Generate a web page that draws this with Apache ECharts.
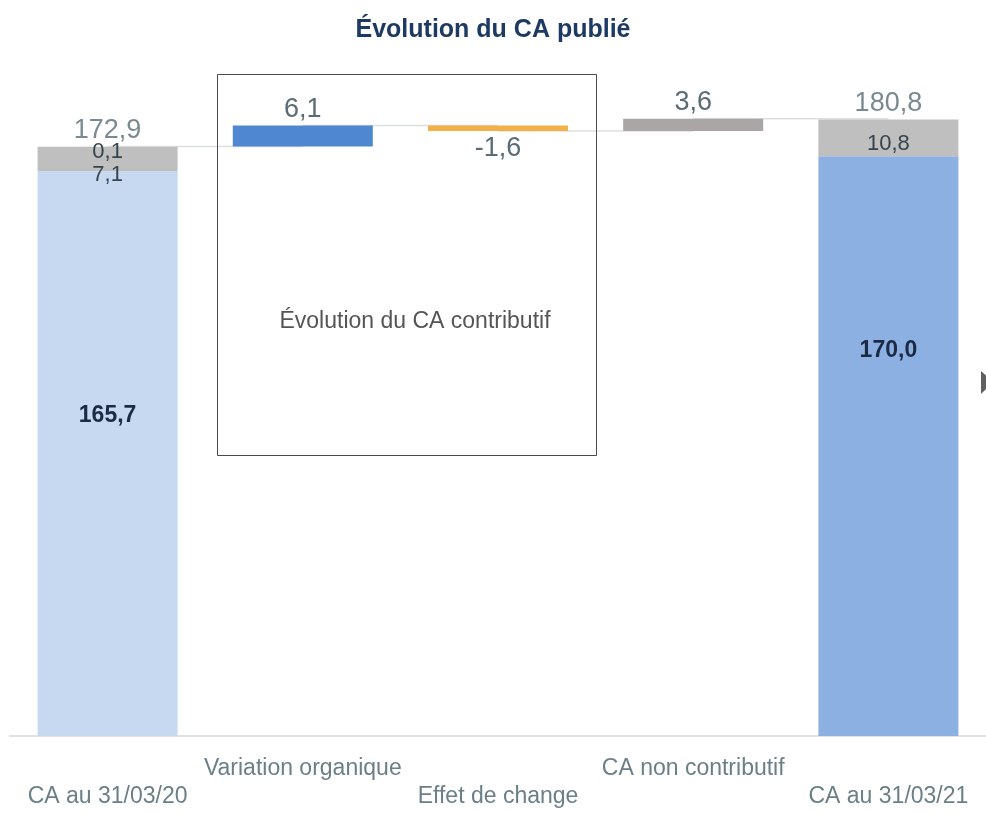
<!DOCTYPE html>
<html>
<head>
<meta charset="utf-8">
<script src="https://cdn.jsdelivr.net/npm/echarts@6/dist/echarts.min.js"></script>
<style>html,body{margin:0;padding:0;background:#fff}#c{width:986px;height:814px}</style>
</head>
<body>
<div id="c"></div>
<script>
// ---- data ----
var categories = ['CA au 31/03/20', 'Variation organique', 'Effet de change', 'CA non contributif', 'CA au 31/03/21'];
var start2020 = [165.7, 7.1, 0.1];       // base, gray, light gray segments of first bar
var deltas = [6.1, -1.6, 3.6];           // organic, FX, non-contributive
var end2021 = [170.0, 10.8];             // base, gray segment of last bar
var deltaColors = ['#4f87d1', '#f2b148', '#aba6a6'];

function fmt(v) { return v.toFixed(1).replace('.', ','); }

var total2020 = +(start2020[0] + start2020[1] + start2020[2]).toFixed(1);
var total2021 = +(end2021[0] + end2021[1]).toFixed(1);

var valColor = '#5a6c75';
var ff = '"Liberation Sans", Arial, sans-serif';

// waterfall bases and connector levels computed from values
var running = total2020;
var baseData = ['-'];
var deltaData = ['-'];
var levels = [total2020];
deltas.forEach(function (d, i) {
  var lo = d >= 0 ? running : running + d;
  baseData.push(+lo.toFixed(1));
  deltaData.push({
    value: Math.abs(d),
    itemStyle: { color: deltaColors[i] },
    label: { show: true, position: d >= 0 ? 'top' : 'bottom', distance: d >= 0 ? 3 : 4,
      formatter: fmt(d), fontSize: 27, color: valColor }
  });
  running = +(running + d).toFixed(1);
  levels.push(running);
});
baseData.push('-');
deltaData.push('-');

var connectorSeries = levels.map(function (lv, i) {
  return {
    type: 'line', z: 1, silent: true, symbol: 'none', animation: false,
    lineStyle: { color: '#dcdfe1', width: 1.5 },
    data: [[i, lv], [i + 1, lv]]
  };
});

var chart = echarts.init(document.getElementById('c'));
chart.setOption({
  animation: false,
  textStyle: { fontFamily: ff },
  title: {
    text: 'Évolution du CA publié', left: 'center', top: 13,
    textStyle: { fontFamily: ff, fontSize: 25, fontWeight: 'bold', color: '#1d3a63' }
  },
  grid: { left: 10, right: -1, top: 54, bottom: 78 },
  xAxis: {
    type: 'category', data: categories,
    axisLine: { lineStyle: { color: '#dde2e6', width: 2 } },
    axisTick: { show: false },
    axisLabel: {
      interval: 0, hideOverlap: false, margin: 19, fontSize: 23, color: '#6b7f87', lineHeight: 28,
      fontFamily: ff,
      formatter: function (v, i) { return i % 2 === 1 ? v : '\n' + v; }
    }
  },
  yAxis: { type: 'value', min: 0, max: 200, show: false, splitLine: { show: false } },
  series: connectorSeries.concat([
    {
      name: 'base', type: 'bar', stack: 'w', barWidth: 140, z: 2,
      itemStyle: { color: 'transparent' }, data: baseData
    },
    {
      name: 'main', type: 'bar', stack: 'w', barWidth: 140, z: 2,
      data: [
        { value: start2020[0], itemStyle: { color: '#c6d9f0' },
          label: { show: true, position: 'inside', offset: [0, -38], formatter: fmt(start2020[0]) } },
        '-', '-', '-',
        { value: end2021[0], itemStyle: { color: '#8db0e3' },
          label: { show: true, position: 'inside', offset: [0, -95], formatter: fmt(end2021[0]) } }
      ],
      label: { fontSize: 23, fontWeight: 'bold', color: '#1b2a45' }
    },
    {
      name: 'gray', type: 'bar', stack: 'w', barWidth: 140, z: 2,
      data: [
        { value: start2020[1], label: { show: true, position: 'inside', offset: [0, 16], formatter: fmt(start2020[1]) } },
        '-', '-', '-',
        { value: end2021[1], label: { show: true, position: 'inside', offset: [0, 6], formatter: fmt(end2021[1]) } }
      ],
      itemStyle: { color: '#bfbfbf' },
      label: { fontSize: 22, color: '#36454c' }
    },
    {
      name: 'light', type: 'bar', stack: 'w', barWidth: 140, z: 2,
      data: [
        { value: start2020[2], label: { show: true, position: 'inside', offset: [0, 5], formatter: fmt(start2020[2]) } },
        '-', '-', '-', '-'
      ],
      itemStyle: { color: '#d9d9d9' },
      label: { fontSize: 22, color: '#36454c' }
    },
    {
      name: 'delta', type: 'bar', stack: 'w', barWidth: 140, z: 2, data: deltaData
    },
    {
      type: 'scatter', symbolSize: 1, z: 3, itemStyle: { color: 'transparent' },
      data: [[0, total2020], [4, total2021]],
      label: { show: true, position: 'top', distance: 2, fontSize: 27, color: valColor,
        formatter: function (p) { return fmt(p.value[1]); } }
    }
  ]),
  graphic: [
    { type: 'rect', shape: { x: 217.5, y: 74.5, width: 379, height: 381 },
      style: { fill: 'none', stroke: '#4a4a4a', lineWidth: 1 }, z: 10 },
    { type: 'text', x: 415, y: 322, z: 10,
      style: { text: 'Évolution du CA contributif', font: '23px ' + ff, fill: '#555', align: 'center', verticalAlign: 'middle' } },
    { type: 'polygon', shape: { points: [[981, 371], [981, 394], [993, 382]] },
      style: { fill: '#606060' }, z: 10 }
  ]
});
</script>
</body>
</html>
